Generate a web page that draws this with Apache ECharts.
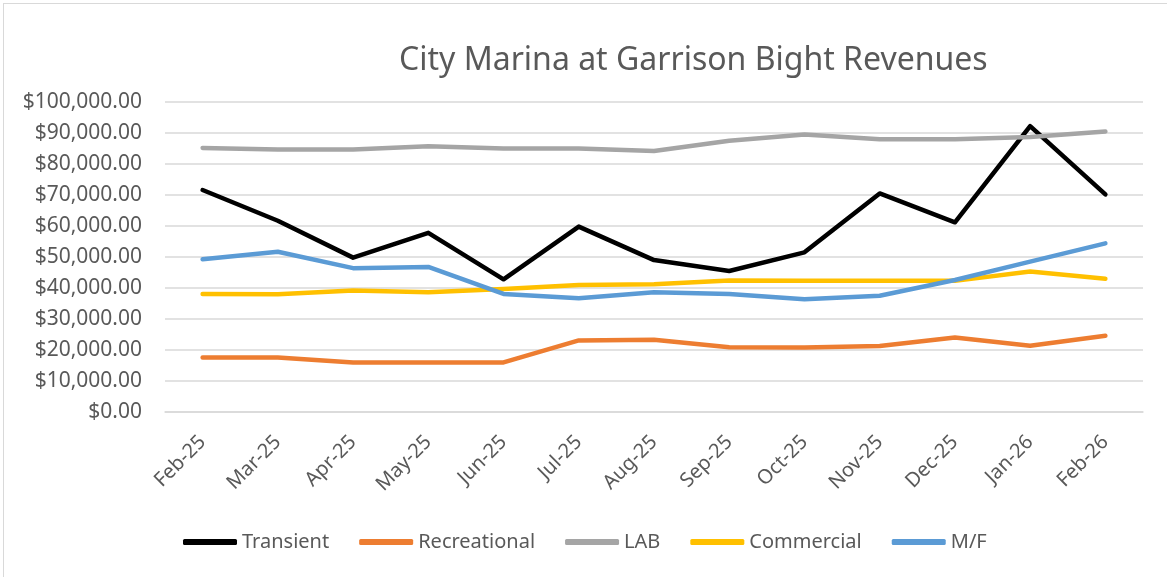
<!DOCTYPE html>
<html>
<head>
<meta charset="utf-8">
<script src="https://cdn.jsdelivr.net/npm/echarts@6/dist/echarts.min.js"></script>
<style>
  html, body { margin: 0; padding: 0; background: #fff; }
  #chart { width: 1167px; height: 577px; position: relative; }
  #frame {
    position: absolute; left: 3px; top: 3px; right: -10px; bottom: -10px;
    border: 1px solid #d9d9d9; pointer-events: none;
  }
</style>
</head>
<body>
<div id="chart"></div>
<div id="frame"></div>
<script>
const months = ["Feb-25", "Mar-25", "Apr-25", "May-25", "Jun-25", "Jul-25", "Aug-25",
  "Sep-25", "Oct-25", "Nov-25", "Dec-25", "Jan-26", "Feb-26"];
const transient = [71600, 61700, 49800, 57800, 42800, 59800, 49000, 45500, 51500, 70500, 61200, 92200, 70200];
const recreational = [17600, 17600, 16000, 16000, 16000, 23100, 23300, 20900, 20800, 21300, 24000, 21400, 24600];
const lab = [85200, 84700, 84700, 85700, 85000, 85000, 84200, 87500, 89500, 88000, 88000, 88700, 90500];
const commercial = [38100, 38000, 39200, 38600, 39700, 41000, 41200, 42400, 42300, 42300, 42300, 45300, 43000];
const mf = [49300, 51700, 46400, 46800, 38100, 36700, 38600, 38100, 36400, 37500, 42600, 48500, 54400];

const FONT = "Noto Sans";
const GREY = "#595959";

const chart = echarts.init(document.getElementById("chart"));

function money(v) {
  return "$" + v.toLocaleString("en-US", { minimumFractionDigits: 2, maximumFractionDigits: 2 });
}

function line(name, data, color) {
  return {
    name: name,
    type: "line",
    data: data,
    symbol: "none",
    lineStyle: { width: 4.5, color: color, cap: "round", join: "round" },
    itemStyle: { color: color },
  };
}

chart.setOption({
  animation: false,
  textStyle: { fontFamily: FONT },
  title: {
    text: "City Marina at Garrison Bight Revenues",
    left: 394,
    top: 40,
    textStyle: { fontFamily: FONT, fontSize: 32, fontWeight: "normal", color: GREY },
  },
  legend: {
    left: 178,
    top: 527,
    icon: "roundRect",
    itemWidth: 54,
    itemHeight: 6,
    itemGap: 30,
    textStyle: { fontFamily: FONT, fontSize: 20, color: GREY },
  },
  grid: { left: 165, right: 24, top: 102, bottom: 165, containLabel: false, outerBoundsMode: "none" },
  xAxis: {
    type: "category",
    data: months,
    axisLine: { lineStyle: { color: "#d9d9d9", width: 1.5 } },
    axisTick: { length: 7, lineStyle: { color: "#d9d9d9", width: 1.5 } },
    axisLabel: { rotate: 45, fontFamily: FONT, fontSize: 20, color: GREY, margin: 27 },
  },
  yAxis: {
    type: "value",
    min: 0,
    max: 100000,
    interval: 10000,
    axisLine: { show: false },
    axisTick: { show: false },
    splitLine: { lineStyle: { color: "#d9d9d9", width: 1.5 } },
    axisLabel: { fontFamily: FONT, fontSize: 21, color: GREY, margin: 23, formatter: money },
  },
  series: [
    line("Transient", transient, "#000000"),
    line("Recreational", recreational, "#ED7D31"),
    line("LAB", lab, "#A5A5A5"),
    line("Commercial", commercial, "#FFC000"),
    line("M/F", mf, "#5B9BD5"),
  ],
});
</script>
</body>
</html>
